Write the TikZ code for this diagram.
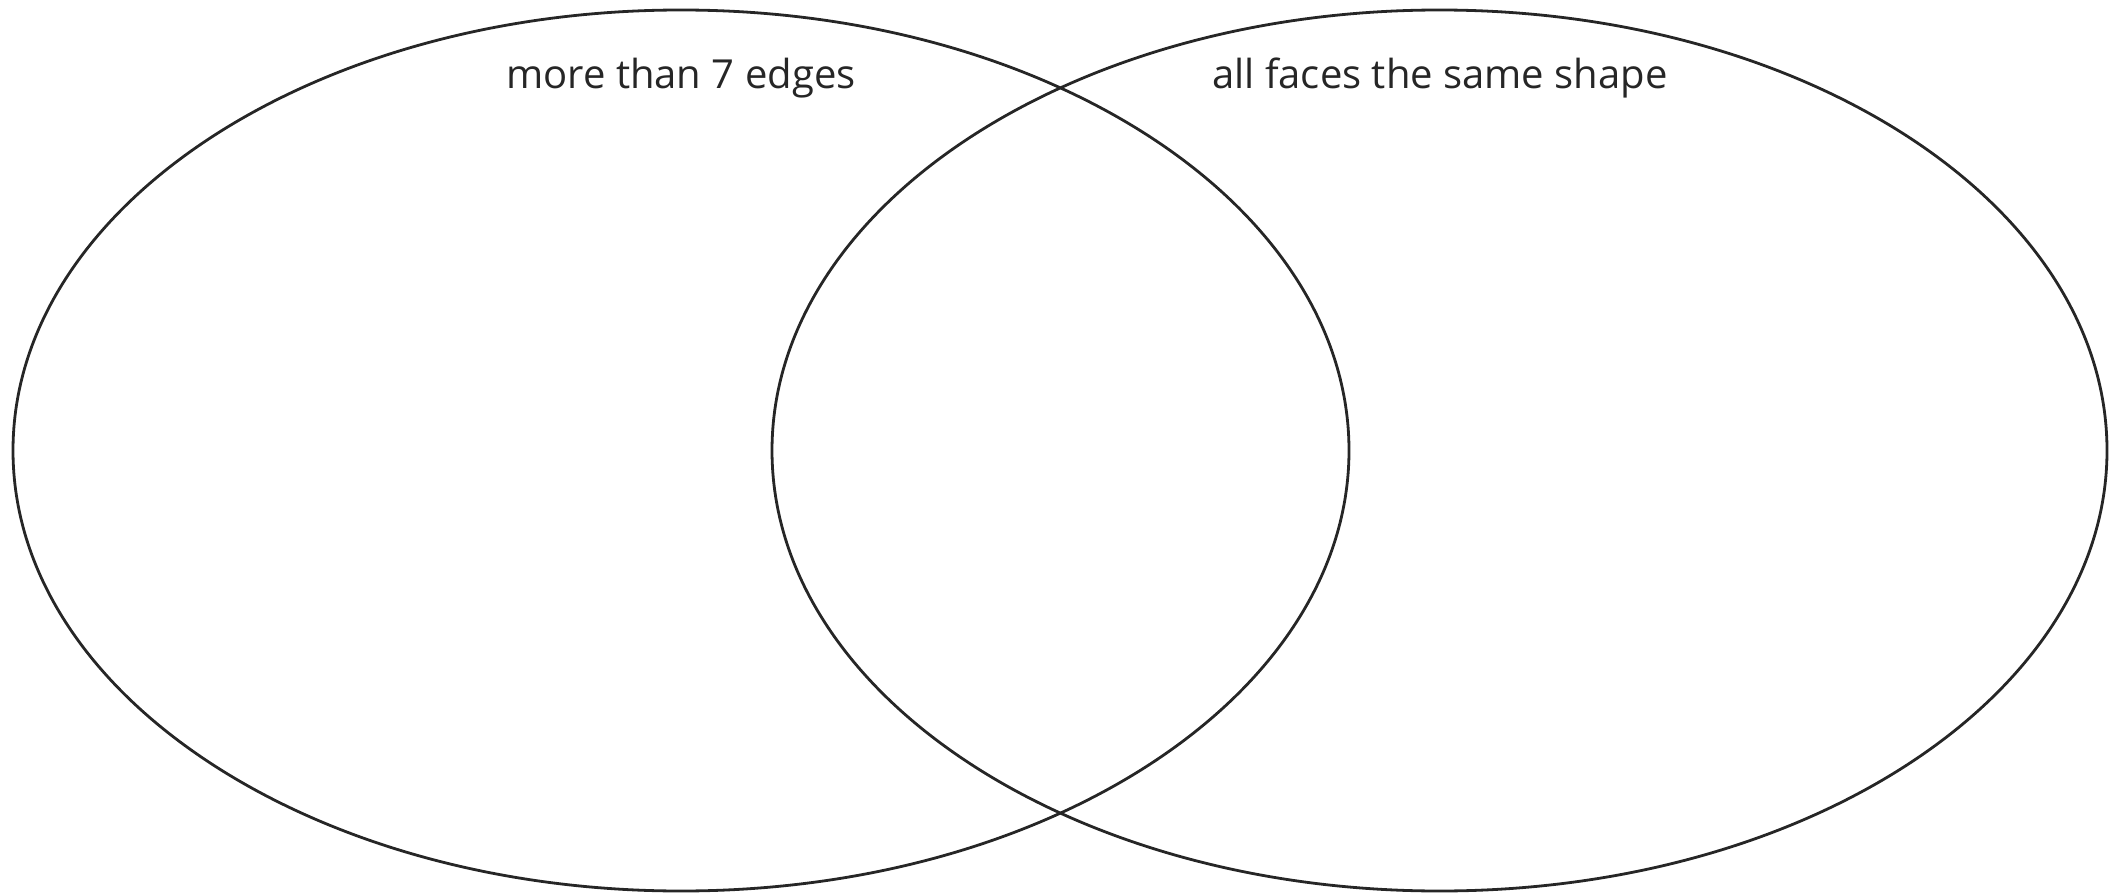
\documentclass[tikz,border=0pt]{standalone}
\usepackage{fontspec}
\setmainfont{Open Sans}
\begin{document}
\begin{tikzpicture}[x=1pt,y=-1pt,
  setring/.style={draw=black!85,line width=2.8pt},
  setlabel/.style={anchor=base,font=\fontsize{40}{44}\selectfont,text=black!85,inner sep=0pt}]
\useasboundingbox (0,0) rectangle (2116,893);
\draw[setring] (681,450.5) ellipse [x radius=668,y radius=440.5];
\draw[setring] (1439.5,450.5) ellipse [x radius=667.5,y radius=440.5];
\node[setlabel] (la) at (681,89) {more than 7 edges};
\node[setlabel] (lb) at (1440,89) {all faces the same shape};
\end{tikzpicture}
\end{document}
